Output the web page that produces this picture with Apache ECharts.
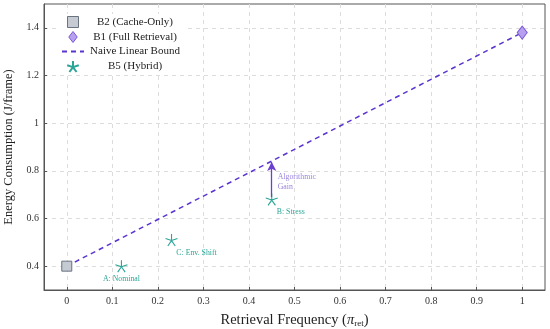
<!DOCTYPE html>
<html><head><meta charset="utf-8">
<script src="https://cdn.jsdelivr.net/npm/echarts@6/dist/echarts.min.js"></script>
<style>html,body{margin:0;padding:0;background:#fff}#c{width:550px;height:329px}</style>
</head><body><div id="c"></div>
<script>
const xTicks = [0, 0.1, 0.2, 0.3, 0.4, 0.5, 0.6, 0.7, 0.8, 0.9, 1];
const yTicks = [0.4, 0.6, 0.8, 1, 1.2, 1.4];
const b2Point = [0, 0.40];
const b1Point = [1, 1.38];
const b5X = [0.12, 0.23, 0.45];
const b5Y = [0.40, 0.51, 0.68];
const b5Names = ['A: Nominal', 'C: Env. Shift', 'B: Stress'];
const gainX = 0.45;
const gainFrom = 0.69;
const gainText = 'Algorithmic\nGain';

const FONT = 'Liberation Serif';
const teal = '#2aa596';
const purple = '#5a35d0';
const starPath = 'path://M0,-10L0,0M9.51,-3.09L0,0M5.88,8.09L0,0M-5.88,8.09L0,0M-9.51,-3.09L0,0';
const squarePath = 'path://M0,0H10V10H0Z';
const diamondPath = 'path://M5,0L10,6.5L5,13L0,6.5Z';
const b5LabelOffsets = [[0, 13], [25, 13], [19, 13]];
const boundAt = x => b2Point[1] + (x - b2Point[0]) * (b1Point[1] - b2Point[1]) / (b1Point[0] - b2Point[0]);

const chart = echarts.init(document.getElementById('c'), null, {renderer: 'canvas'});
chart.setOption({
  animation: false,
  textStyle: {fontFamily: FONT},
  grid: {left: 44, right: 5, top: 4, bottom: 39, show: true, borderColor: '#555', borderWidth: 1,
    containLabel: false, outerBoundsMode: 'none'},
  legend: {
    orient: 'vertical', left: 57, top: 14, itemWidth: 22, itemHeight: 11, itemGap: 3,
    symbolKeepAspect: true,
    backgroundColor: '#fff', padding: [2, 4, 2, 4],
    data: [
      {name: 'B2 (Cache-Only)', icon: squarePath, itemStyle: {borderWidth: 1}},
      {name: 'B1 (Full Retrieval)', icon: diamondPath, itemStyle: {borderWidth: 1}},
      {name: 'Naive Linear Bound', itemStyle: {color: 'rgba(0,0,0,0)', borderWidth: 0, opacity: 0}},
      {name: 'B5 (Hybrid)', icon: starPath}
    ],
    formatter: n => '{t|' + n + '}',
    textStyle: {rich: {t: {width: 92, align: 'center', fontFamily: FONT, fontSize: 11, lineHeight: 11, color: '#222'}}}
  },
  xAxis: {
    type: 'value', min: -0.05, max: 1.05,
    name: 'Retrieval Frequency ({i|π}{s|ret})', nameLocation: 'middle', nameGap: 23,
    nameTextStyle: {fontFamily: FONT, fontSize: 14.5, color: '#222',
      rich: {i: {fontFamily: FONT, fontStyle: 'italic', fontSize: 14.5, color: '#222'},
             s: {fontFamily: FONT, fontSize: 9, color: '#222', verticalAlign: 'bottom', padding: [6, 0, 0, 0]}}},
    axisLine: {show: true, onZero: false, lineStyle: {color: '#555'}},
    axisTick: {show: true, inside: true, length: 3, customValues: xTicks, lineStyle: {color: '#555'}},
    axisLabel: {customValues: xTicks, fontFamily: FONT, fontSize: 10, color: '#333', margin: 6},
    splitLine: {show: true, lineStyle: {color: '#dcdcdc', type: [4, 4]}}
  },
  yAxis: {
    type: 'value', min: 0.3, max: 1.5,
    name: 'Energy Consumption (J/frame)', nameLocation: 'middle', nameGap: 26, nameRotate: 90,
    nameTextStyle: {fontFamily: FONT, fontSize: 12.5, color: '#222'},
    axisLine: {show: true, onZero: false, lineStyle: {color: '#555'}},
    axisTick: {show: true, inside: true, length: 3, customValues: yTicks, lineStyle: {color: '#555'}},
    axisLabel: {customValues: yTicks, fontFamily: FONT, fontSize: 10, color: '#333', margin: 5},
    splitLine: {show: true, lineStyle: {color: '#dcdcdc', type: [4, 4]}}
  },
  series: [
    {
      name: 'Naive Linear Bound', type: 'line', data: [b2Point, b1Point], symbol: 'none', z: 2,
      lineStyle: {color: purple, width: 1.5, type: [5, 4]}, itemStyle: {color: purple}
    },
    {
      name: 'B2 (Cache-Only)', type: 'scatter', data: [b2Point], symbol: 'rect', symbolSize: 10, z: 3,
      itemStyle: {color: '#c5cad3', borderColor: '#6b7280', borderWidth: 1, opacity: 1}
    },
    {
      name: 'B1 (Full Retrieval)', type: 'scatter', data: [b1Point], symbol: 'diamond', symbolSize: [10, 13], z: 3,
      itemStyle: {color: '#b7a0ee', borderColor: '#7b58d8', borderWidth: 1, opacity: 1}
    },
    {
      name: 'B5 (Hybrid)', type: 'scatter', symbol: starPath, symbolSize: 12, z: 4,
      itemStyle: {color: teal, borderColor: teal, borderWidth: 1.1, opacity: 1},
      data: b5X.map((x, i) => ({
        value: [x, b5Y[i]],
        label: {show: true, formatter: b5Names[i], position: 'inside', offset: b5LabelOffsets[i],
          fontFamily: FONT, fontSize: 7.8, color: teal}
      })),
      markLine: {
        silent: true, symbol: ['none', 'arrow'], symbolSize: [7, 9], label: {show: false},
        lineStyle: {color: '#6b3fd0', type: 'solid', width: 1.3},
        data: [[{coord: [gainX, gainFrom]}, {coord: [gainX, boundAt(gainX) - 0.004]}]]
      }
    },
    {
      name: 'gainLabel', type: 'scatter', symbolSize: 0, z: 5, silent: true,
      data: [[gainX, (gainFrom + boundAt(gainX)) / 2]],
      label: {show: true, position: 'right', distance: 6, offset: [0, 3], formatter: gainText,
        fontFamily: FONT, fontSize: 7.8, lineHeight: 10, color: '#8064d6'}
    }
  ]
});
</script></body></html>
